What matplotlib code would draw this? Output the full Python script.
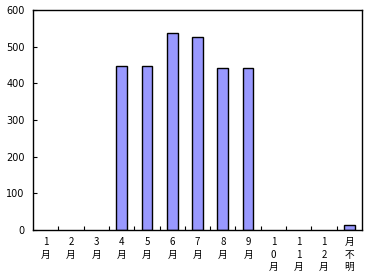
import numpy as np
import matplotlib
matplotlib.use("Agg")
import matplotlib.pyplot as plt

months = ["1\n月", "2\n月", "3\n月", "4\n月", "5\n月", "6\n月", "7\n月",
          "8\n月", "9\n月", "1\n0\n月", "1\n1\n月", "1\n2\n月", "月\n不\n明"]
counts = [0, 0, 0, 448, 448, 536, 525, 442, 441, 0, 0, 0, 13]
y_ticks = [0, 100, 200, 300, 400, 500, 600]

plt.rcParams['font.family'] = ['Noto Sans CJK JP', 'DejaVu Sans']

fig = plt.figure(figsize=(3.69, 2.76), dpi=100)
ax = fig.add_axes([33 / 369, 46 / 276, 329 / 369, 220 / 276])

x = np.arange(len(months))
# zero values get no outline, as in the original
edges = ["black" if c > 0 else "none" for c in counts]
ax.bar(x, counts, width=0.42, color="#9999FF", edgecolor=edges, linewidth=1.0)

ax.set_xlim(-0.5, len(months) - 0.5)
ax.set_ylim(0, 600)
ax.set_yticks(y_ticks)
ax.set_yticklabels([str(v) for v in y_ticks], fontsize=7, family="DejaVu Sans")

# category labels at centers, tick marks at boundaries
ax.set_xticks(x)
ax.set_xticklabels(months, fontsize=7, linespacing=1.32, va="top")
ax.tick_params(axis="x", which="major", length=0, pad=5)
ax.set_xticks(np.arange(0.5, len(months) - 0.5), minor=True)
ax.tick_params(axis="x", which="minor", direction="in", length=3, width=0.8)
ax.tick_params(axis="y", direction="in", length=3, width=0.8, pad=6)

for s in ax.spines.values():
    s.set_linewidth(1.0)

fig.savefig("out.png", dpi=100)
